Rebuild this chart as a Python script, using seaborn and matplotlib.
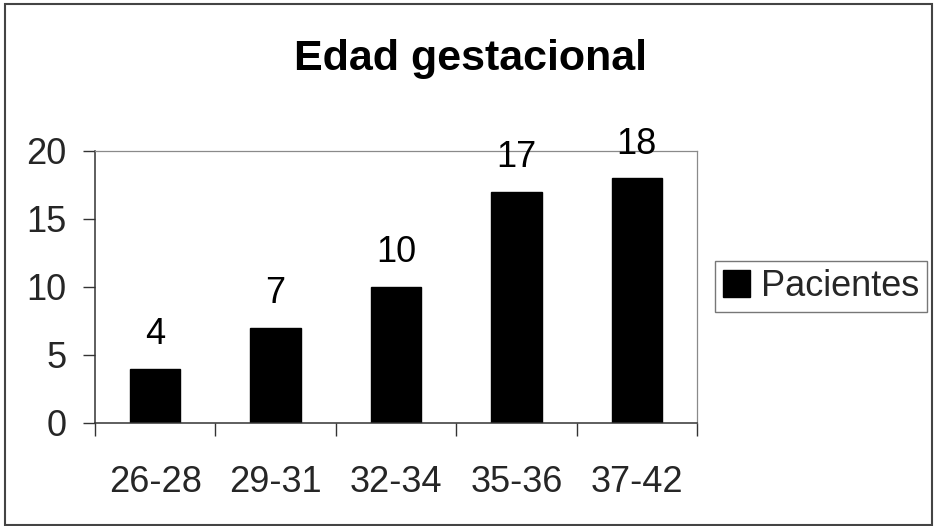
import matplotlib
matplotlib.use("Agg")
import matplotlib.pyplot as plt
import matplotlib.patches as mpatches
import seaborn as sns
import pandas as pd

categories = ["26-28", "29-31", "32-34", "35-36", "37-42"]
pacientes = [4, 7, 10, 17, 18]
y_ticks = [0, 5, 10, 15, 20]
title = "Edad gestacional"
series_name = "Pacientes"

sns.set_theme(style="white")
plt.rcParams["font.family"] = ["Liberation Sans", "DejaVu Sans"]

df = pd.DataFrame({"cat": categories, "val": pacientes})

W, H = 934, 526
fig = plt.figure(figsize=(W / 100, H / 100), dpi=100)
ax = fig.add_axes([95 / W, 1 - 423 / H, (697 - 95) / W, (423 - 151) / H])

sns.barplot(data=df, x="cat", y="val", color="black", width=0.42,
            ax=ax, label=series_name, saturation=1, edgecolor="black")

ax.set_xlim(-0.5, len(categories) - 0.5)
ax.set_ylim(0, 20)
ax.set_yticks(y_ticks)
ax.set_xlabel("")
ax.set_ylabel("")

for c in ax.containers:
    ax.bar_label(c, padding=12, fontsize=26, color="black")

ax.tick_params(axis="y", which="major", direction="out", length=8.6, width=1,
               color="#333333", labelsize=26, pad=12, left=True)
ax.tick_params(axis="x", which="major", length=0, labelsize=26, pad=30, bottom=True)
ax.set_xticks([i - 0.5 for i in range(len(categories) + 1)], minor=True)
ax.tick_params(axis="x", which="minor", direction="out", length=9.4, width=1,
               color="#333333", bottom=True)

for s in ["left", "bottom"]:
    ax.spines[s].set_color("#333333")
    ax.spines[s].set_linewidth(1.1)
for s in ["top", "right"]:
    ax.spines[s].set_color("#8a8a8a")
    ax.spines[s].set_linewidth(0.9)

fig.text(470.5 / W, 1 - 70 / H, title, ha="center", va="baseline",
         fontsize=31, fontweight="bold", color="black")

leg = ax.legend(loc="center left", bbox_to_anchor=(715 / W, 1 - 286.5 / H),
                bbox_transform=fig.transFigure, fontsize=26, frameon=True,
                fancybox=False, edgecolor="#555555", handlelength=0.75,
                handleheight=0.75, handletextpad=0.3, borderpad=0.22,
                borderaxespad=0)
leg.get_frame().set_linewidth(1.0)

border = mpatches.Rectangle((5 / W, 1 - 525 / H), (932 - 5) / W, (525 - 4) / H,
                            transform=fig.transFigure, fill=False,
                            edgecolor="#444444", linewidth=1.5)
fig.patches.append(border)

fig.savefig("out.png", dpi=100)
